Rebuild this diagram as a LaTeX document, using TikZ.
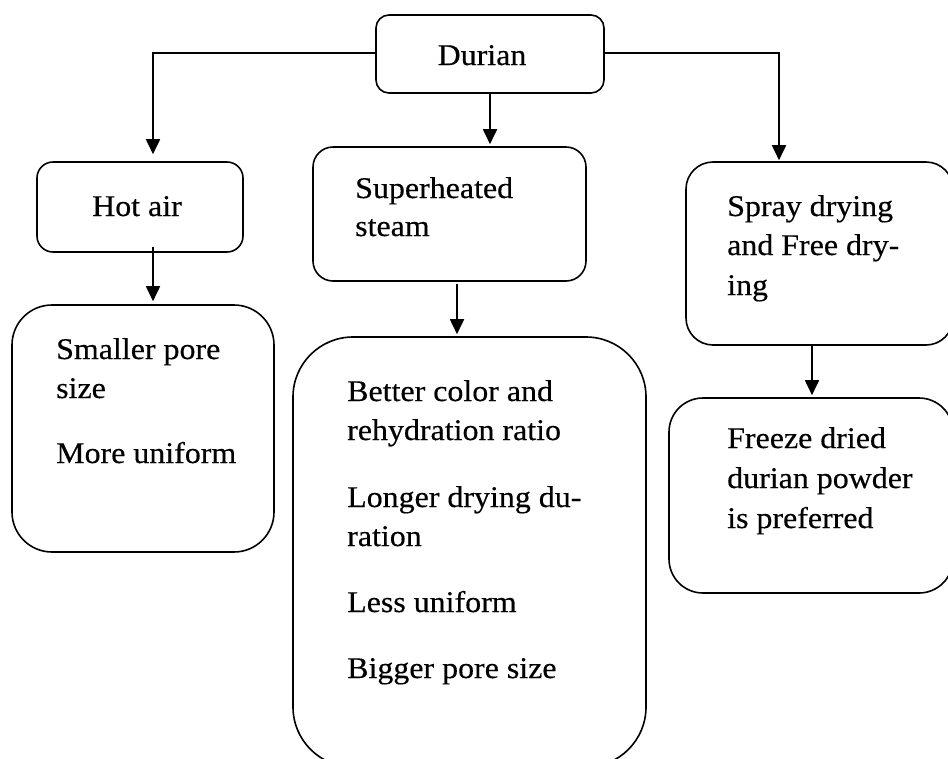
\documentclass[tikz,border=0pt]{standalone}
\usepackage{fontspec}
\setmainfont{Liberation Serif}[FakeStretch=1.065, FakeBold=0.4]
\usetikzlibrary{arrows.meta}
\tikzset{
  box/.style={draw, line width=1.6pt, inner sep=0pt, fill=none},
  arr/.style={line width=1.8pt, -{Triangle[width=14pt,length=15pt]}},
  txt/.style={inner sep=0pt, font=\fontsize{30}{39}\selectfont},
}
% draw a rounded box from its left/top/right/bottom edges (y grows downwards)
\newcommand\roundbox[6]{%
  \node[box, rounded corners=#6, minimum width={#4-#2}, minimum height={#5-#3}]
    (#1) at ({(#2+#4)/2},{(#3+#5)/2}) {};}
\begin{document}
\begin{tikzpicture}[x=1pt, y=-1pt]
\useasboundingbox (0,0) rectangle (948,758);

% boxes
\roundbox{durian}{376}{15}{604}{93}{13pt}
\roundbox{hotair}{37}{162}{243}{252}{16pt}
\roundbox{steam}{313}{147}{586}{281}{20pt}
\roundbox{spray}{686}{162}{953}{345}{27pt}
\roundbox{pore}{12}{305}{274}{552}{40pt}
\roundbox{effects}{293}{337}{646}{767}{60pt}
\roundbox{freeze}{669}{398}{953}{593}{34pt}

% texts
\node[txt, anchor=base] (tdurian) at (482,65) {Durian};
\node[txt, anchor=base] (thot) at (137,216) {Hot air};

\node[txt, anchor=base west] (ts1) at (355,198) {Superheated};
\node[txt, anchor=base west] (ts2) at (355,236) {steam};

\node[txt, anchor=base west] (tp1) at (727,216) {Spray drying};
\node[txt, anchor=base west] (tp2) at (727,255) {and Free dry-};
\node[txt, anchor=base west] (tp3) at (727,295) {ing};

\node[txt, anchor=base west] (tf1) at (727,448) {Freeze dried};
\node[txt, anchor=base west] (tf2) at (727,488) {durian powder};
\node[txt, anchor=base west] (tf3) at (727,528) {is preferred};

\node[txt, anchor=base west] (tr1) at (56,359) {Smaller pore};
\node[txt, anchor=base west] (tr2) at (56,398) {size};
\node[txt, anchor=base west] (tr3) at (56,463) {More uniform};

\node[txt, anchor=base west] (te1) at (347,401) {Better color and};
\node[txt, anchor=base west] (te2) at (347,440) {rehydration ratio};
\node[txt, anchor=base west] (te3) at (347,507) {Longer drying du-};
\node[txt, anchor=base west] (te4) at (347,546) {ration};
\node[txt, anchor=base west] (te5) at (347,612) {Less uniform};
\node[txt, anchor=base west] (te6) at (347,678) {Bigger pore size};

% connectors
\draw[arr] ([yshift=1pt]durian.west) -| ([xshift=13pt,yshift=7pt]hotair.north);
\draw[arr] ([yshift=1pt]durian.east) -| ([xshift=-40.5pt,yshift=1pt]spray.north);
\draw[arr] (durian.south) -- ([yshift=2pt]durian.south |- steam.north);
\draw[arr] ([xshift=13pt,yshift=6pt]hotair.south) -- ([xshift=13pt,yshift=3pt]hotair.south |- pore.north);
\draw[arr] ([xshift=7.5pt,yshift=-2pt]steam.south) -- ([xshift=7.5pt,yshift=2pt]steam.south |- effects.north);
\draw[arr] ([xshift=-7.5pt]spray.south) -- ([xshift=-7.5pt,yshift=2pt]spray.south |- freeze.north);
\end{tikzpicture}
\end{document}
